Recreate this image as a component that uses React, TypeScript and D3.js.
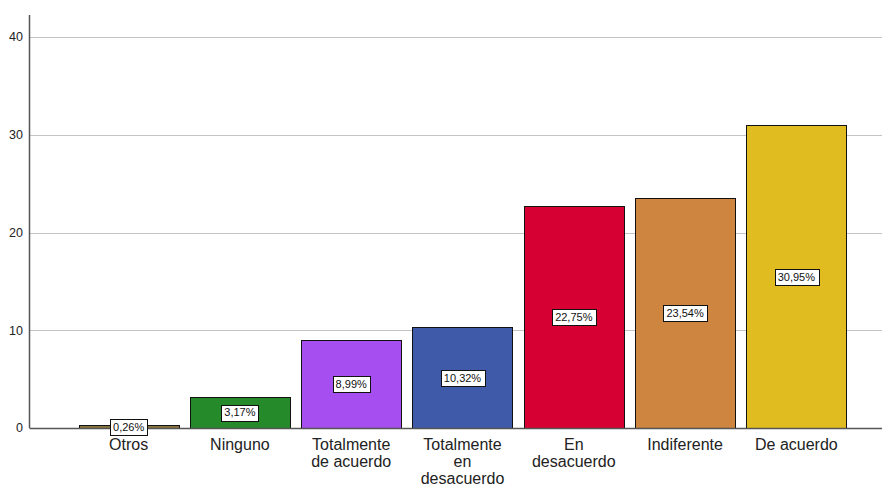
import React from "react";
import * as d3 from "d3";

const categories: string[][] = [
  ["Otros"],
  ["Ninguno"],
  ["Totalmente", "de acuerdo"],
  ["Totalmente", "en", "desacuerdo"],
  ["En", "desacuerdo"],
  ["Indiferente"],
  ["De acuerdo"],
];
const values = [0.26, 3.17, 8.99, 10.32, 22.75, 23.54, 30.95];
const labels = ["0,26%", "3,17%", "8,99%", "10,32%", "22,75%", "23,54%", "30,95%"];
const colors = ["#8a7440", "#258a2a", "#a64ef0", "#3f5aa8", "#d60032", "#cd8540", "#e0bc20"];
const yTicks = [0, 10, 20, 30, 40];

const W = 882;
const H = 487;
const axisX = 29.5;
const right = W;

export default function App() {
  const y = d3.scaleLinear().domain([0, 40]).range([428, 37]);
  const x = d3
    .scaleBand<number>()
    .domain(values.map((_, i) => i))
    .range([73, 852])
    .paddingInner(0.1)
    .paddingOuter(0.05);
  const font = "'Liberation Sans', Arial, sans-serif";
  return (
    <svg
      width={W}
      height={H}
      style={{ position: "absolute", left: 0, top: 0, background: "#fff" }}
      fontFamily={font}
    >
      {yTicks.slice(1).map((t) => (
        <line key={t} x1={axisX} x2={right} y1={Math.round(y(t)) + 0.5} y2={Math.round(y(t)) + 0.5} stroke="#c4c4c4" strokeWidth={1} />
      ))}
      {yTicks.map((t) => (
        <text key={t} x={23} y={y(t)} dy="0.35em" textAnchor="end" fontSize={12.5} fill="#222">
          {t}
        </text>
      ))}
      {values.map((v, i) => (
        <rect
          key={i}
          x={Math.round(x(i)!) + 0.5}
          y={Math.round(y(v)) + 0.5}
          width={Math.round(x.bandwidth())}
          height={Math.max(0, Math.round(y(0)) - Math.round(y(v)))}
          fill={colors[i]}
          stroke="#111"
          strokeWidth={1}
        />
      ))}
      <line x1={axisX} x2={axisX} y1={15} y2={y(0)} stroke="#555" strokeWidth={1.5} />
      <line x1={axisX} x2={right} y1={Math.round(y(0)) + 0.5} y2={Math.round(y(0)) + 0.5} stroke="#555" strokeWidth={1.5} />
      {values.map((v, i) => {
        const cx = x(i)! + x.bandwidth() / 2;
        const cy = y(v / 2);
        const w = labels[i].length * 6.6 + 4;
        return (
          <g key={i}>
            <rect x={Math.round(cx - w / 2) + 0.5} y={Math.round(cy - 8) + 0.5} width={Math.round(w)} height={16} fill="#fff" stroke="#111" strokeWidth={1} />
            <text x={cx} y={cy} dy="0.36em" textAnchor="middle" fontSize={11} fill="#111">
              {labels[i]}
            </text>
          </g>
        );
      })}
      {categories.map((lines, i) => {
        const cx = x(i)! + x.bandwidth() / 2;
        return (
          <text key={i} x={cx} y={450} textAnchor="middle" fontSize={16} fill="#222">
            {lines.map((l, j) => (
              <tspan key={j} x={cx} dy={j === 0 ? 0 : 16.8}>
                {l}
              </tspan>
            ))}
          </text>
        );
      })}
    </svg>
  );
}
